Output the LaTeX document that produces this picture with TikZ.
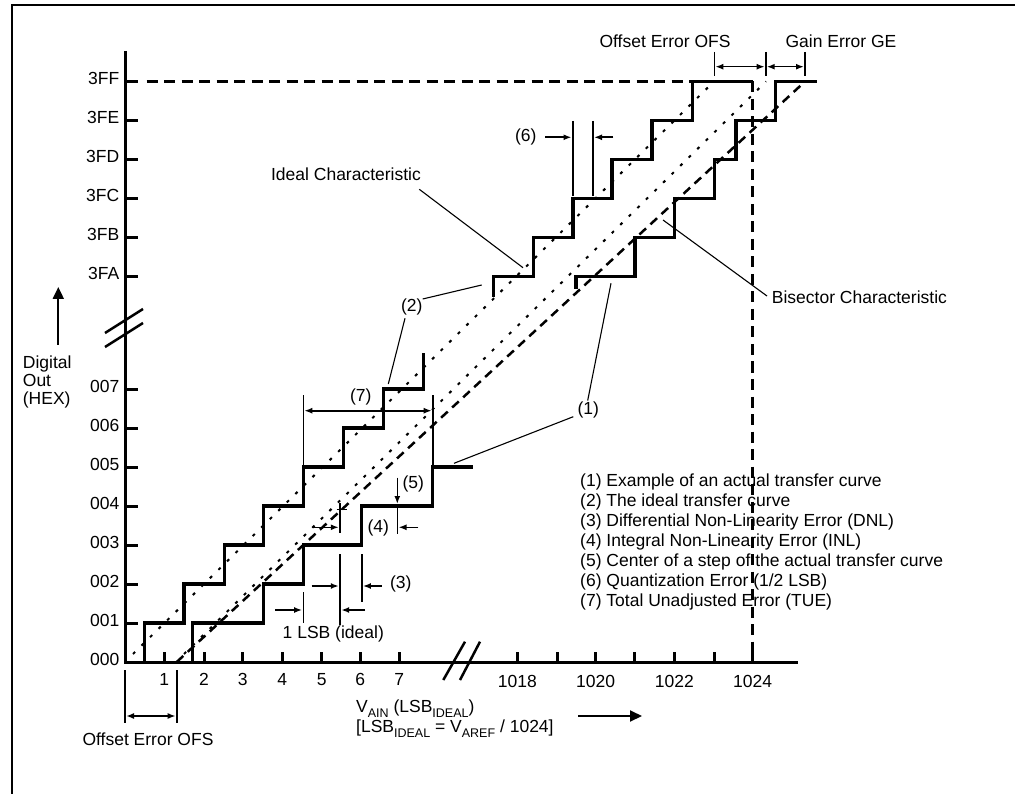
\documentclass[tikz,border=0pt]{standalone}
\usepackage{fontspec}
\setmainfont{Liberation Sans}
\usetikzlibrary{arrows.meta}
\newcommand\sbs[1]{\raisebox{-5pt}{\fontsize{12.5}{12.5}\selectfont #1}}
\begin{document}
\begin{tikzpicture}[x=1pt,y=-1pt,
  every node/.style={font=\fontsize{17.5}{20}\selectfont, inner sep=0pt},
  stair/.style={line width=3.2pt, line join=miter},
  axisline/.style={line width=3pt},
  tickline/.style={line width=3pt},
  idealline/.style={line width=2pt, dash pattern=on 3pt off 9pt},
  bisector/.style={line width=2.5pt, dash pattern=on 9pt off 6pt},
  limitline/.style={line width=3.5pt, dash pattern=on 11pt off 6.5pt},
  marker/.style={line width=1.6pt},
  pointer/.style={line width=1.1pt},
  dimarrow/.style={line width=1.6pt, -{Latex[length=8pt,width=6pt]}},
  dimboth/.style={line width=1.6pt, {Latex[length=8pt,width=6pt]}-{Latex[length=8pt,width=6pt]}},
  bigarrow/.style={line width=2pt, -{Triangle[length=12pt,width=11pt]}},
  breakline/.style={line width=2.5pt},
]
\useasboundingbox (0,0) rectangle (1015,794);

% frame
\draw[line width=2pt] (12,794) -- (12,5) -- (1015,5);

% axes
\draw[axisline] (125,51) -- (125,662) -- (798,662);
\foreach \y in {81.5,120.5,159.5,198.5,237.5,276.5,389,428,467,506,545,584,623}
  \draw[tickline] (125,\y) -- (138,\y);
\foreach \x in {164.3,204,242.7,282.3,321.7,360.3,399.3,517.3,557.3,595.7,634.3,674.3,714.3,752.7}
  \draw[tickline] (\x,662) -- (\x,652);

% axis breaks
\draw[breakline] (105,333) -- (143,309);
\draw[breakline] (105,347) -- (143,323);
\draw[breakline] (443.3,680) -- (465,641.7);
\draw[breakline] (460,680) -- (480,641.7);

% y labels
\foreach \t/\y in {3FF/81.5,3FE/120.5,3FD/159.5,3FC/198.5,3FB/237.5,3FA/276.5,007/389,006/428,005/467,004/506,003/545,002/584,001/623,000/662}
  \node[anchor=base east] (lab\t) at (119.5,\y+3.5) {\t};

% x labels
\foreach \t/\x in {1/164.3,2/204,3/242.7,4/282.3,5/321.7,6/360.3,7/399.3}
  \node[anchor=base] (xl\t) at (\x,685.5) {\t};
\foreach \t/\x in {1018/517.3,1020/595.7,1022/674.3,1024/752.7}
  \node[anchor=base] (xl\t) at (\x,687) {\t};

% full-scale limit lines
\draw[limitline] (146.7,81.5) -- (692.7,81.5);
\draw[limitline] (752.7,81.5) -- (752.7,652);

% characteristic lines
\draw[idealline] (133,654) -- (714,81.5);
\draw[idealline] (184,654) -- (766,81.5);
\draw[bisector] (176.7,662) -- (805,81.5);

% ideal transfer curve (2)
\draw[stair] (144.3,662) -- (144.3,623) -- (184,623) -- (184,584) -- (224.3,584) -- (224.3,545)
  -- (263.3,545) -- (263.3,506) -- (303.3,506) -- (303.3,467) -- (343.3,467) -- (343.3,428)
  -- (383.3,428) -- (383.3,389) -- (423.3,389) -- (423.3,352.7);
\draw[stair] (493.3,297) -- (493.3,276.5) -- (533.3,276.5) -- (533.3,237.5) -- (573,237.5)
  -- (573,198.5) -- (612,198.5) -- (612,159.5) -- (652,159.5) -- (652,120.5) -- (692.7,120.5)
  -- (692.7,81.5) -- (753,81.5);

% actual transfer curve (1)
\draw[stair] (192.7,662) -- (192.7,623) -- (263.3,623) -- (263.3,584) -- (303.3,584) -- (303.3,545)
  -- (361.7,545) -- (361.7,506) -- (432.7,506) -- (432.7,467) -- (472.7,467);
\draw[stair] (576,289) -- (576,276.5) -- (635,276.5) -- (635,237.5) -- (674.3,237.5) -- (674.3,198.5)
  -- (714.3,198.5) -- (714.3,159.5) -- (736,159.5) -- (736,120.5) -- (775.7,120.5) -- (775.7,81.5)
  -- (816.7,81.5);

% top offset / gain error
\node[anchor=base] (ofsT) at (665,48) {Offset Error OFS};
\node[anchor=base] (geT) at (841,48) {Gain Error GE};
\coordinate (tA) at (714.3,66.7);
\coordinate (tB) at (765.7,66.7);
\coordinate (tC) at (805,66.7);
\draw[marker] (714.3,52) -- (714.3,76);
\draw[marker] (765.7,52) -- (765.7,76);
\draw[marker] (805,52) -- (805,76);
\draw[dimboth] ([xshift=1pt]tA) -- ([xshift=-1pt]tB);
\draw[dimboth] ([xshift=1pt]tB) -- ([xshift=-1pt]tC);

% bottom offset error
\node[anchor=base] (ofsB) at (148,745) {Offset Error OFS};
\coordinate (bA) at (125,716);
\coordinate (bB) at (176.7,716);
\draw[marker] (125,670) -- (125,723);
\draw[marker] (176.7,670) -- (176.7,723);
\draw[dimboth] ([xshift=1pt]bA) -- ([xshift=-1pt]bB);

% (6) quantization error
\node (n6) at (525.7,137) {(6)};
\draw[marker] (572.7,121) -- (572.7,196);
\draw[marker] (592.7,121) -- (592.7,196);
\draw[dimarrow] (545,137.3) -- (571.5,137.3);
\draw[dimarrow] (613.3,137.3) -- (594,137.3);

% (7) total unadjusted error
\node (n7) at (360.7,396.5) {(7)};
\draw[marker] (303.3,395) -- (303.3,466);
\draw[marker] (432.7,395) -- (432.7,466);
\draw[dimboth] (304.3,410.7) -- (431.7,410.7);

% (5) center of step
\node (n5) at (413.3,484) {(5)};
\draw[dimarrow] (397.3,477.7) -- (397.3,504);

% (4) INL
\node (n4) at (378.3,528) {(4)};
\draw[marker] (397.3,506) -- (397.3,534);
\draw[marker] (340,502.7) -- (340,533.3);
\draw[marker] (336.7,509.3) -- (346.7,509.3);
\draw[dimarrow] (311.7,527.3) -- (338.8,527.3);
\draw[dimarrow] (418.3,527.3) -- (398.5,527.3);

% (3) DNL
\node (n3) at (400.8,584) {(3)};
\draw[marker] (340,554) -- (340,625);
\draw[marker] (361.7,554) -- (361.7,601.7);
\draw[dimarrow] (311.7,586) -- (338.8,586);
\draw[dimarrow] (381.7,586) -- (362.9,586);

% 1 LSB (ideal)
\node (nlsb) at (333.3,634) {1 LSB (ideal)};
\draw[marker] (303.3,592) -- (303.3,623.3);
\draw[dimarrow] (275,610) -- (302.1,610);
\draw[dimarrow] (365,610) -- (341.2,610);

% pointer labels
\node (idealT) at (346,174) {Ideal Characteristic};
\coordinate (idealP) at (523,267.7);
\draw[pointer] (419.3,189.3) -- (idealP);

\node (n2) at (411.7,306.5) {(2)};
\coordinate (p2a) at (481.7,285);
\coordinate (p2b) at (388.3,384);
\draw[pointer] (422.7,299) -- (p2a);
\draw[pointer] (405,318.3) -- (p2b);

\node (n1) at (588.3,410) {(1)};
\coordinate (p1a) at (454,463.3);
\coordinate (p1b) at (611,283.3);
\draw[pointer] (573.3,416.7) -- (p1a);
\draw[pointer] (587.7,400.5) -- (p1b);

\node[anchor=base west] (bisT) at (771.7,304) {Bisector Characteristic};
\coordinate (bisP) at (663,220);
\draw[pointer] (bisP) -- (767,296);

% legend
\node[anchor=base west] (leg1) at (580,486) {(1) Example of an actual transfer curve};
\node[anchor=base west] (leg2) at (580,506) {(2) The ideal transfer curve};
\node[anchor=base west] (leg3) at (580,526) {(3) Differential Non-Linearity Error (DNL)};
\node[anchor=base west] (leg4) at (580,546) {(4) Integral Non-Linearity Error (INL)};
\node[anchor=base west] (leg5) at (580,566) {(5) Center of a step of the actual transfer curve};
\node[anchor=base west] (leg6) at (580,586) {(6) Quantization Error (1/2 LSB)};
\node[anchor=base west] (leg7) at (580,606) {(7) Total Unadjusted Error (TUE)};

% axis titles
\node[anchor=base west] (dig1) at (22.7,369) {Digital};
\node[anchor=base west] (dig2) at (22.7,386.5) {Out};
\node[anchor=base west] (dig3) at (22.7,404) {(HEX)};
\coordinate (upTip) at (58.3,287);
\draw[bigarrow] (58.3,345) -- (upTip);

\node[anchor=base west] (vain) at (356,712) {V\sbs{AIN} (LSB\sbs{IDEAL})};
\node[anchor=base west] (vref) at (356,732) {[LSB\sbs{IDEAL} = V\sbs{AREF} / 1024]};
\coordinate (rTip) at (642,716);
\draw[bigarrow] (578.3,716) -- (rTip);
\end{tikzpicture}
\end{document}
